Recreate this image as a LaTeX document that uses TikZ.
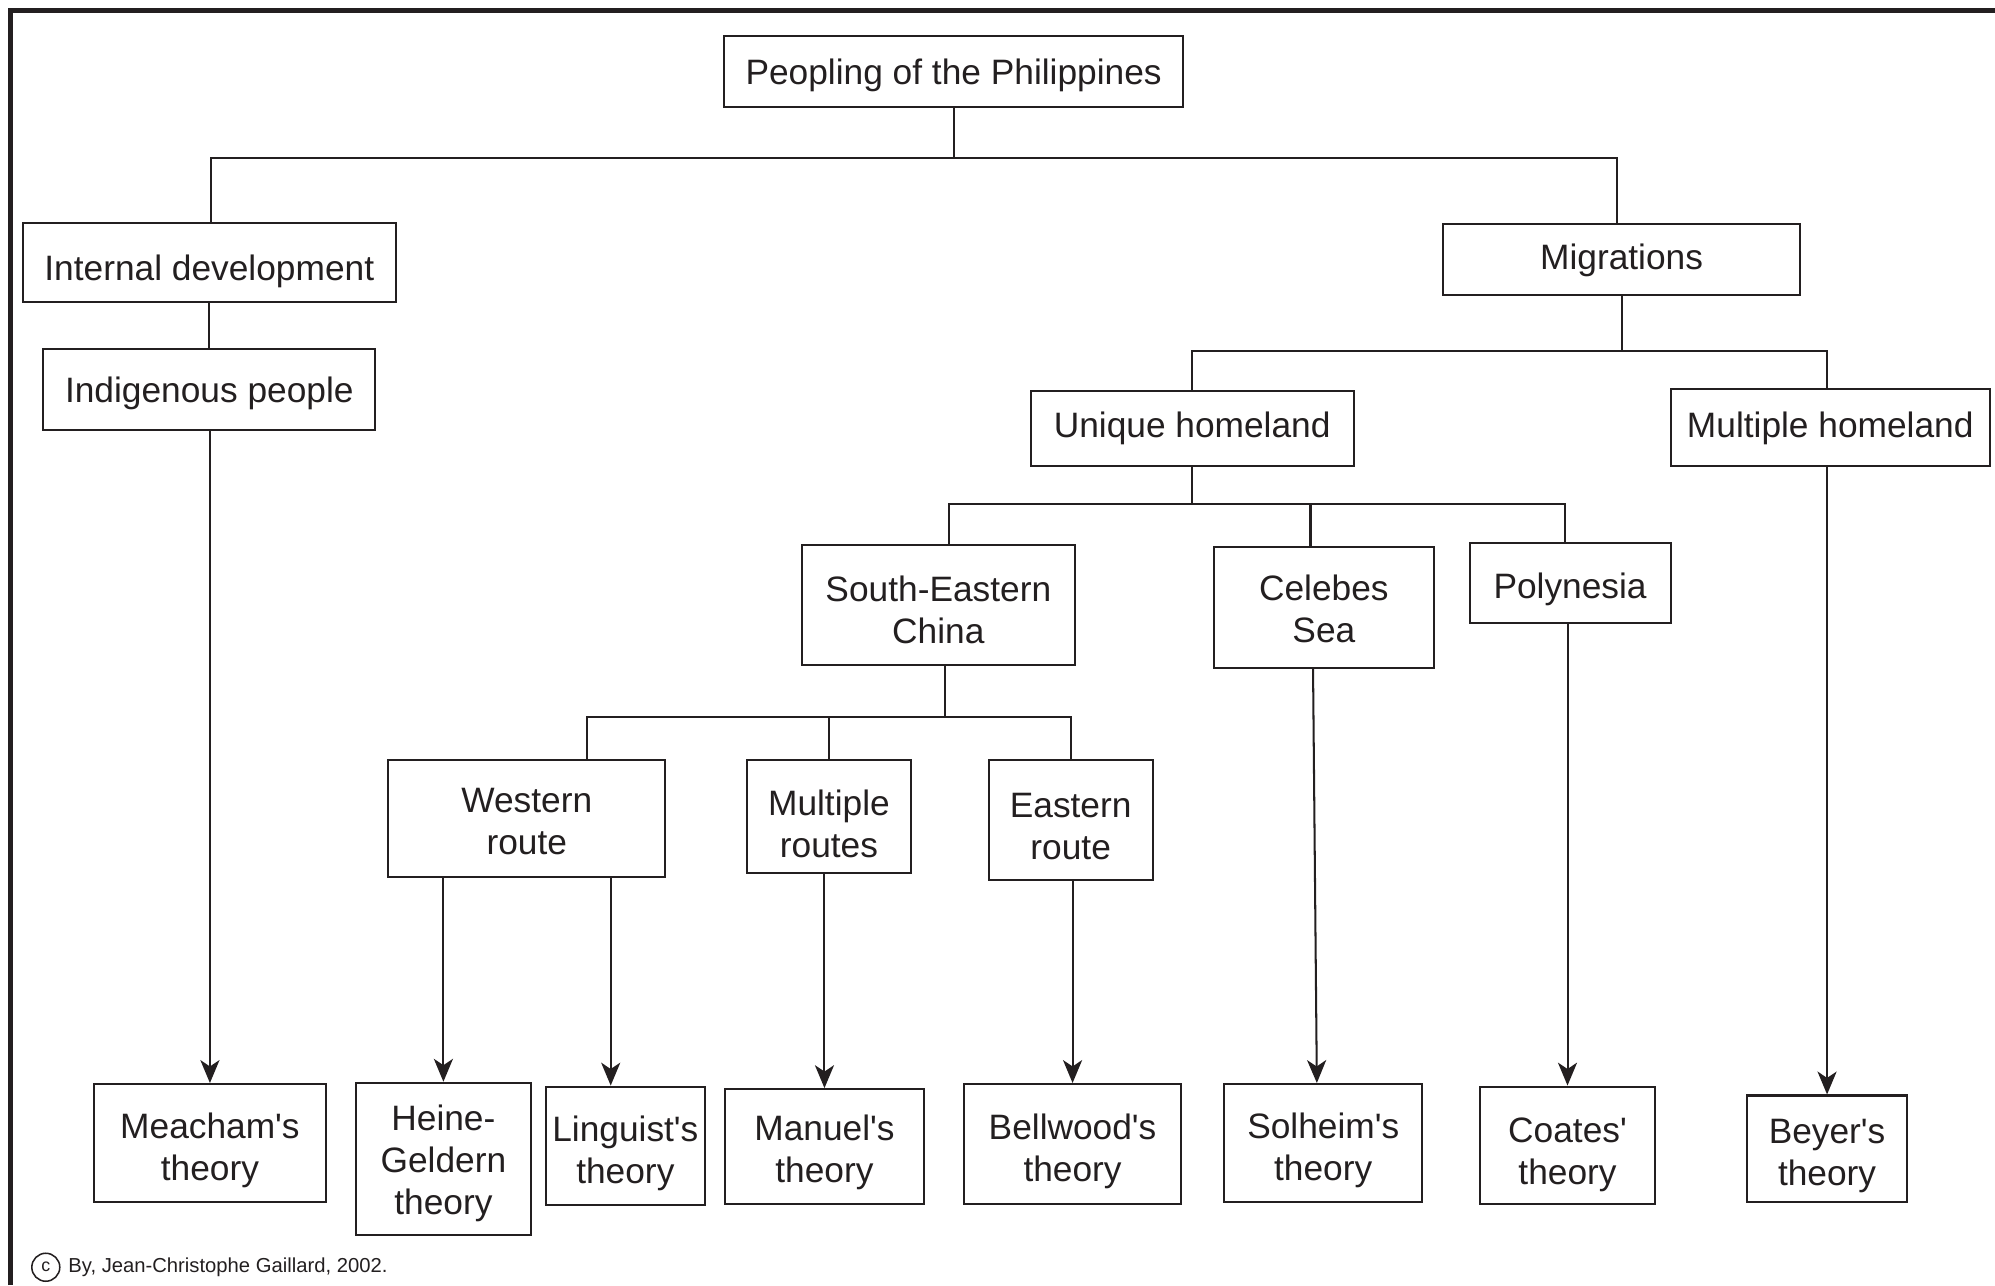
\documentclass[tikz,border=0pt]{standalone}
\usepackage{fontspec}
\setmainfont{Liberation Sans}
\usepackage{tikz}
\usetikzlibrary{arrows.meta,positioning}
\definecolor{ink}{HTML}{231F20}
\newcommand{\liftby}[1]{\rule{0pt}{#1}}

\tikzset{
  box/.style={draw=ink, line width=1.6pt, inner sep=2pt, align=center, text=ink,
    font=\fontsize{27.75pt}{33pt}\selectfont, execute at begin node={\liftby{#1}}},
  box/.default=0pt,
  link/.style={draw=ink, line width=1.6pt},
}

\begin{document}
\begin{tikzpicture}[x=1pt, y=-1pt, >={Stealth[length=18pt,width=15pt,inset=5pt]}]
  \useasboundingbox (0,0) rectangle (1568,1010);
  \draw [ink, line width=4pt] (8.5,1010) -- (8.5,8.5) -- (1568,8.5);

  % top levels
  \node [box=26pt, minimum width=361pt, minimum height=56pt] (peopling) at (749.5,56) {Peopling of the Philippines};
  \node [box=34pt, minimum width=293pt, minimum height=62pt] (intdev) at (164.5,206) {Internal development};
  \node [box=26pt, minimum width=261pt, minimum height=63pt, below=36pt of intdev] (indig) {Indigenous people};
  \node [box=22pt, minimum width=281pt, minimum height=56pt] (migr) at (1274.5,204) {Migrations};
  \node [box=20pt, minimum width=254pt, minimum height=59pt] (unique) at (937,336.5) {Unique homeland};
  \node [box=22pt, minimum width=251pt, minimum height=60pt] (multi) at (1438.5,336) {Multiple homeland};

  % homelands and routes
  \node [box, minimum width=215pt, minimum height=95pt] (sechina) at (737.5,475.5) {\liftby{28pt}South-Eastern\\China};
  \node [box, minimum width=173pt, minimum height=95pt] (celebes) at (1040.5,477.5) {\liftby{22pt}Celebes\\Sea};
  \node [box=30pt, minimum width=158pt, minimum height=63pt] (poly) at (1234,458.5) {Polynesia};
  \node [box, minimum width=218pt, minimum height=92pt] (western) at (414,643) {\liftby{24pt}Western\\route};
  \node [box, minimum width=129pt, minimum height=89pt] (routes) at (651.5,641.5) {\liftby{32pt}Multiple\\routes};
  \node [box, minimum width=129pt, minimum height=95pt] (eastern) at (841.5,644.5) {\liftby{29pt}Eastern\\route};

  % theories
  \node [box, minimum width=182pt, minimum height=93pt] (meacham) at (165,898.5) {\liftby{32pt}Meacham\textquotesingle s\\theory};
  \node [box, minimum width=137pt, minimum height=120pt] (heine) at (348.5,911) {\liftby{27pt}Heine-\\Geldern\\theory};
  \node [box, minimum width=125pt, minimum height=93pt] (linguist) at (491.5,900.5) {\liftby{32pt}Linguist\textquotesingle s\\theory};
  \node [box, minimum width=156pt, minimum height=90pt] (manuel) at (648,901) {\liftby{30pt}Manuel\textquotesingle s\\theory};
  \node [box, minimum width=170pt, minimum height=94pt] (bellwood) at (843,899) {\liftby{32pt}Bellwood\textquotesingle s\\theory};
  \node [box, minimum width=156pt, minimum height=93pt] (solheim) at (1040,898.5) {\liftby{32pt}Solheim\textquotesingle s\\theory};
  \node [box, minimum width=138pt, minimum height=92pt] (coates) at (1232,900) {\liftby{34pt}Coates\textquotesingle\\theory};
  \node [box, minimum width=126pt, minimum height=84pt] (beyer) at (1436,903) {\liftby{31pt}Beyer\textquotesingle s\\theory};

  % tree lines
  \path (peopling.south) ++(0,39) coordinate (j1);
  \draw [link] (peopling.south) -- (j1);
  \draw [link] ([xshift=1.5pt]intdev.north) |- (j1) -| ([xshift=-3.5pt]migr.north);
  \draw [link] (intdev.south) -- (indig.north);

  \path (migr.south) ++(0,43) coordinate (j2);
  \draw [link] (migr.south) -- (j2);
  \draw [link] (unique.north) |- (j2) -| ([xshift=-2.5pt]multi.north);

  \path (unique.south) ++(0,29) coordinate (j3);
  \draw [link] (unique.south) -- (j3);
  \draw [link] ([xshift=8.5pt]sechina.north) |- (j3) -| ([xshift=-4pt]poly.north);
  \draw [link] ([xshift=-10.5pt]celebes.north) coordinate (c1) -- (c1 |- j3);

  \path ([xshift=5.5pt]sechina.south) coordinate (s1) ++(0,40) coordinate (j4);
  \draw [link] (s1) -- (j4);
  \draw [link] ([xshift=47pt]western.north) |- (j4) -| (eastern.north);
  \draw [link] (routes.north) -- (routes.north |- j4);

  % arrows
  \draw [link, ->] (meacham.north |- indig.south) -- (meacham.north);
  \draw [link, ->] (heine.north |- western.south) -- (heine.north);
  \draw [link, ->] ([xshift=66pt]western.south) coordinate (w2) -- (w2 |- linguist.north);
  \draw [link, ->] (manuel.north |- routes.south) -- (manuel.north);
  \draw [link, ->] (bellwood.north |- eastern.south) -- (bellwood.north);
  \draw [link, ->] ([xshift=-8.5pt]celebes.south) -- ([xshift=-5pt]solheim.north);
  \draw [link, ->] (coates.north |- poly.south) -- (coates.north);
  \draw [link, ->] (beyer.north |- multi.south) -- (beyer.north);

  % credit
  \node [circle, draw=ink, line width=1.2pt, minimum size=22pt, inner sep=0pt, text=ink,
    font=\fontsize{14pt}{14pt}\selectfont] (copyr) at (36,996) {\raisebox{-3pt}{c}};
  \node [right=6pt of copyr, inner sep=0pt, text=ink, font=\fontsize{15.9pt}{18pt}\selectfont] (credit) {By, Jean-Christophe Gaillard, 2002.};
\end{tikzpicture}
\end{document}
